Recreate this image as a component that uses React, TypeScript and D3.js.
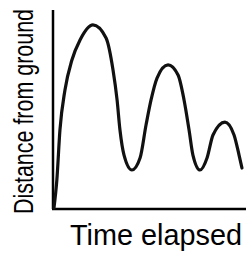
import * as d3 from "d3";

// readings taken along the drawn curve (time, distance), both on a 0-100 scale
const timeElapsed = [
  0.5, 2, 3.6, 6.2, 9.8, 14, 20.7, 27.5, 31.1, 33.2, 34.7, 36.8, 40.9, 45.1,
  48.2, 50.8, 53.9, 59.6, 64.8, 67.9, 70.5, 72.5, 76.2, 79.8, 82.9, 89.1, 93.8,
  96.4, 97.9,
];
const distance = [
  0.5, 14.6, 39.7, 59.8, 74.9, 84.9, 92.5, 85.9, 69.8, 54.8, 39.7, 27.1, 19.6,
  25.6, 42.2, 54.8, 65.8, 72.4, 67.3, 54.8, 39.7, 27.1, 19.6, 25.6, 37.2, 43.7,
  37.2, 27.1, 20.6,
];
const xLabel = "Time elapsed";
const yLabel = "Distance from ground";

export default function App() {
  const width = 246,
    height = 259;
  const originX = 53,
    originY = 209,
    topY = 10,
    rightX = 246;
  const font = "'Liberation Sans Narrow', 'Liberation Sans', Arial, sans-serif";

  const xScale = d3.scaleLinear().domain([0, 100]).range([originX, rightX]);
  const yScale = d3.scaleLinear().domain([0, 100]).range([originY, topY]);

  const points: [number, number][] = timeElapsed.map((t, i) => [t, distance[i]]);
  const line = d3
    .line<[number, number]>()
    .x((d) => xScale(d[0]))
    .y((d) => yScale(d[1]))
    .curve(d3.curveMonotoneX);

  return (
    <svg
      width={width}
      height={height}
      style={{ position: "absolute", left: 0, top: 0, background: "white" }}
    >
      {/* axes */}
      <line
        x1={xScale(0)}
        y1={yScale(100)}
        x2={xScale(0)}
        y2={yScale(0)}
        stroke="black"
        strokeWidth={2.5}
      />
      <line
        x1={xScale(0) - 1}
        y1={yScale(0)}
        x2={xScale(100)}
        y2={yScale(0)}
        stroke="black"
        strokeWidth={2.5}
      />
      <path
        d={line(points) ?? ""}
        fill="none"
        stroke="#111"
        strokeWidth={3.2}
        strokeLinecap="round"
        strokeLinejoin="round"
      />
      <text
        x={70}
        y={245}
        fontFamily={font}
        fontSize={29}
        textLength={172}
        lengthAdjust="spacingAndGlyphs"
      >
        {xLabel}
      </text>
      <text
        transform="translate(33 214) rotate(-90)"
        fontFamily={font}
        fontSize={27}
        textLength={205}
        lengthAdjust="spacingAndGlyphs"
      >
        {yLabel}
      </text>
    </svg>
  );
}
